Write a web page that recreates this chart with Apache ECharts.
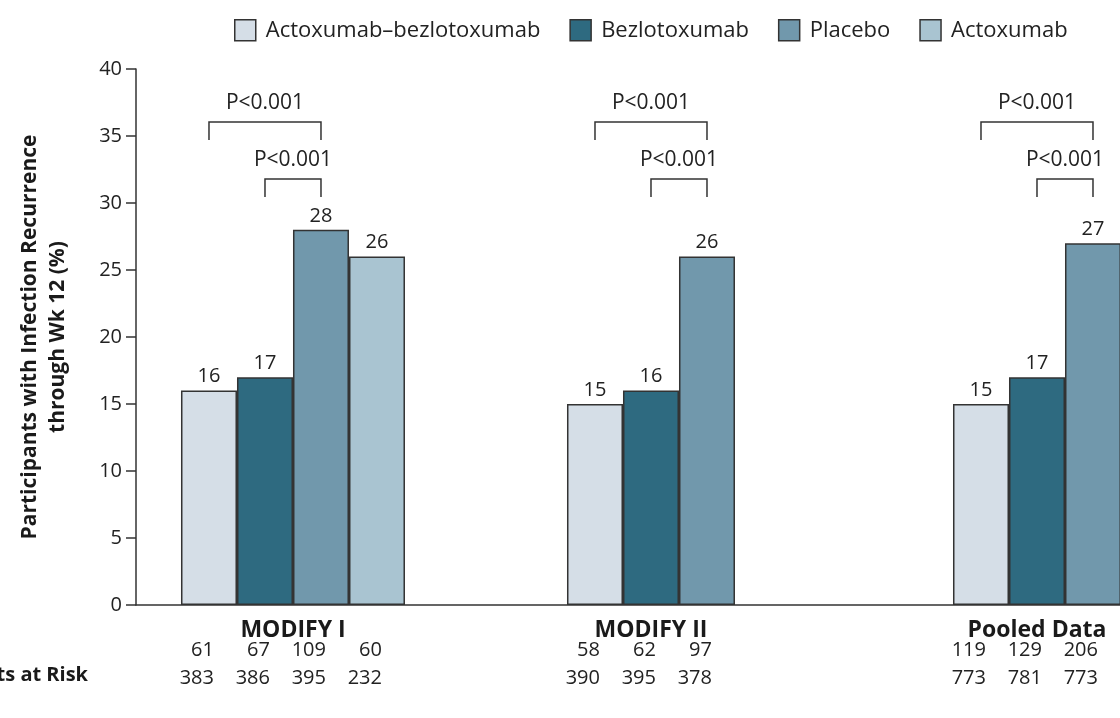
<!DOCTYPE html>
<html>
<head>
<meta charset="utf-8">
<script src="https://cdn.jsdelivr.net/npm/echarts@6/dist/echarts.min.js"></script>
<style>
html,body{margin:0;padding:0;background:#fff;}
#chart{width:1120px;height:718px;}
</style>
</head>
<body>
<div id="chart"></div>
<script>
// ---- data ----
const categories = ['MODIFY I', 'MODIFY II', 'Pooled Data'];
const seriesNames = ['Actoxumab\u2013bezlotoxumab', 'Bezlotoxumab', 'Placebo', 'Actoxumab'];
const actoBezloValues = [16, 15, 15];
const bezloValues = [17, 16, 17];
const placeboValues = [28, 26, 27];
const actoxumabValues = [26, null, null];
const recurrenceCounts = [[61, 67, 109, 60], [58, 62, 97], [119, 129, 206]];
const atRiskCounts = [[383, 386, 395, 232], [390, 395, 378], [773, 781, 773]];
const atRiskLabel = 'No. of Participants at Risk';
const pLabels = ['P<0.001', 'P<0.001'];            // outer (slot 0 vs 2), inner (slot 1 vs 2)
const bracketPairs = [[0, 2], [1, 2]];
const bracketLevels = [36.05, 31.8];               // y value of bracket top
const bracketDrop = 1.35;                          // bracket leg length in y units
const yTicks = {min: 0, max: 40, interval: 5};
const yName = 'Participants with Infection Recurrence\nthrough Wk 12 (%)';

// ---- styles ----
const colors = ['#d5dee7', '#2e6a80', '#7198ac', '#a9c4d1'];
const FONT = '"Open Sans", "Noto Sans", sans-serif';
const BAR_W = 56;
const N_SLOTS = 4;
const INK = '#333';

const allValues = [actoBezloValues, bezloValues, placeboValues, actoxumabValues];

const chart = echarts.init(document.getElementById('chart'), null, {renderer: 'canvas'});

function slotX(cx, k) { return cx + (k - (N_SLOTS - 1) / 2) * BAR_W; }

function renderAnnot(params, api) {
  const i = api.value(0);
  const base = api.coord([i, 0]);
  const cx = base[0], y0 = base[1];
  const present = allValues.map(a => a[i]).map((v, k) => v != null ? k : -1).filter(k => k >= 0);
  const lblX = present.reduce((s, k) => s + slotX(cx, k), 0) / present.length;
  const children = [];
  children.push({type: 'text', style: {text: categories[i], x: lblX, y: y0 + 25, align: 'center', verticalAlign: 'middle',
    fontSize: 23, fontWeight: 'bold', fontFamily: FONT, fill: '#1a1a1a'}});
  recurrenceCounts[i].forEach((v, k) => {
    children.push({type: 'text', style: {text: String(v), x: slotX(cx, k) + 5, y: y0 + 45, align: 'right', verticalAlign: 'middle',
      fontSize: 20, fontFamily: FONT, fill: '#222'}});
  });
  atRiskCounts[i].forEach((v, k) => {
    children.push({type: 'text', style: {text: String(v), x: slotX(cx, k) + 5, y: y0 + 73, align: 'right', verticalAlign: 'middle',
      fontSize: 20, fontFamily: FONT, fill: '#222'}});
  });
  bracketPairs.forEach((pair, b) => {
    const xa = slotX(cx, pair[0]), xb = slotX(cx, pair[1]);
    const yt = api.coord([i, bracketLevels[b]])[1];
    const yb = api.coord([i, bracketLevels[b] - bracketDrop])[1];
    children.push({type: 'polyline', shape: {points: [[xa, yb], [xa, yt], [xb, yt], [xb, yb]]},
      style: {stroke: INK, lineWidth: 1.5, fill: null}});
    children.push({type: 'text', style: {text: pLabels[b], x: (xa + xb) / 2, y: yt - 19, align: 'center', verticalAlign: 'middle',
      fontSize: 21, fontFamily: FONT, fill: '#222'}});
  });
  return {type: 'group', children: children};
}

const barSeries = seriesNames.map((name, s) => ({
  name: name,
  type: 'bar',
  barWidth: BAR_W,
  barGap: '0%',
  data: allValues[s].map((v, i) => [i, v]),
  itemStyle: {color: colors[s], borderColor: INK, borderWidth: 1.5},
  label: {show: true, position: 'top', distance: 4, fontSize: 20, fontFamily: FONT, color: '#222'},
  emphasis: {disabled: true},
  animation: false
}));

const option = {
  backgroundColor: '#fff',
  animation: false,
  textStyle: {fontFamily: FONT},
  legend: {
    left: 229, top: 14,
    icon: 'rect', itemWidth: 21, itemHeight: 21, itemGap: 29,
    itemStyle: {borderColor: INK, borderWidth: 1.5},
    textStyle: {fontSize: 22, color: '#222', fontFamily: FONT, padding: [0, 0, 0, 5]},
    data: seriesNames
  },
  grid: {left: 136, right: 0, top: 69, bottom: 113, containLabel: false},
  xAxis: {
    type: 'value',
    min: -0.4067, max: 2.1425,
    axisLine: {show: true, onZero: false, lineStyle: {color: INK, width: 1.5}},
    axisTick: {show: false}, axisLabel: {show: false}, splitLine: {show: false}
  },
  yAxis: {
    type: 'value',
    min: yTicks.min, max: yTicks.max, interval: yTicks.interval,
    name: yName, nameLocation: 'middle', nameGap: 64, nameRotate: 90,
    nameTextStyle: {fontSize: 21, fontWeight: 'bold', color: '#1a1a1a', fontFamily: FONT, lineHeight: 28},
    axisLine: {show: true, onZero: false, lineStyle: {color: INK, width: 1.5}},
    axisTick: {show: true, length: 10, lineStyle: {color: INK, width: 1.5}},
    axisLabel: {fontSize: 20, color: '#222', margin: 14, fontFamily: FONT},
    splitLine: {show: false}
  },
  graphic: [{
    type: 'text', right: 1120 - 88, top: 665,
    style: {text: atRiskLabel, fontSize: 20, fontWeight: 'bold', fontFamily: FONT, fill: '#1a1a1a', align: 'right'}
  }],
  series: barSeries.concat([{
    type: 'custom',
    renderItem: renderAnnot,
    data: categories.map((c, i) => [i]),
    encode: {x: 0},
    clip: false,
    silent: true,
    z: 5
  }])
};
chart.setOption(option);
</script>
</body>
</html>
